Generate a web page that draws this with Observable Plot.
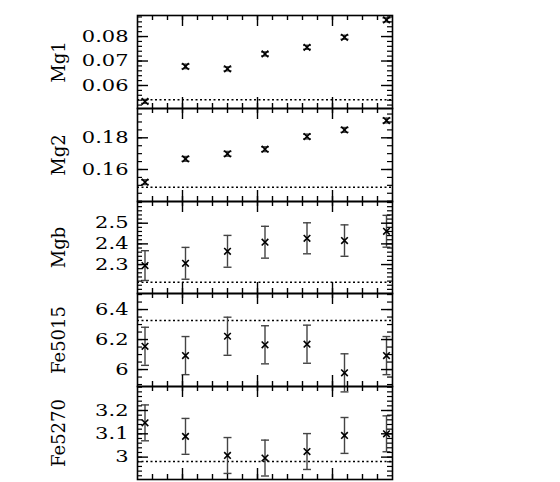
<!DOCTYPE html>
<html><head><meta charset="utf-8">
<script src="https://cdn.jsdelivr.net/npm/d3@7"></script>
<script src="https://cdn.jsdelivr.net/npm/@observablehq/plot@0.6"></script>
<style>
html,body{margin:0;padding:0;background:#fff;}
#chart{position:relative;width:560px;height:482px;overflow:hidden;background:#fff;}
#chart svg{position:absolute;left:0;overflow:visible;}
</style></head><body><div id="chart"></div>
<script>
// shared x positions (unlabelled axis)
const xPos = [-0.25, 0.02, 0.3, 0.55, 0.83, 1.08, 1.36];
const xDomain = [-0.3, 1.4];
const xMajorTicks = [0, 0.5, 1.0];
const xMinorStep = 0.1;

const mg1Values = [0.0535, 0.0678, 0.0668, 0.0729, 0.0756, 0.0797, 0.0868];
const mg1Errors = [0.0008, 0.0009, 0.0008, 0.0008, 0.0008, 0.0008, 0.0008];
const mg1Ref = 0.0542;
const mg1Ticks = [0.06, 0.07, 0.08];

const mg2Values = [0.152, 0.1667, 0.1699, 0.1728, 0.1808, 0.185, 0.1909];
const mg2Errors = [0.0015, 0.0015, 0.0015, 0.0015, 0.0015, 0.0015, 0.0015];
const mg2Ref = 0.1488;
const mg2Ticks = [0.16, 0.18];

const mgbValues = [2.295, 2.306, 2.364, 2.408, 2.427, 2.416, 2.461];
const mgbErrors = [0.072, 0.077, 0.077, 0.077, 0.075, 0.076, 0.077];
const mgbRef = 2.214;
const mgbTicks = [2.3, 2.4, 2.5];

const fe5015Values = [6.155, 6.093, 6.222, 6.165, 6.169, 5.978, 6.093];
const fe5015Errors = [0.127, 0.127, 0.127, 0.127, 0.127, 0.127, 0.127];
const fe5015Ref = 6.327;
const fe5015Ticks = [6, 6.2, 6.4];

const fe5270Values = [3.147, 3.089, 3.007, 2.996, 3.024, 3.093, 3.1];
const fe5270Errors = [0.077, 0.077, 0.077, 0.077, 0.077, 0.077, 0.077];
const fe5270Ref = 2.981;
const fe5270Ticks = [3, 3.1, 3.2];

const panels = [
  {label: "Mg1", values: mg1Values, errors: mg1Errors, ref: mg1Ref, ticks: mg1Ticks, minorStep: 0.002, domain: [0.0506, 0.0886], top: 15, bottom: 108},
  {label: "Mg2", values: mg2Values, errors: mg2Errors, ref: mg2Ref, ticks: mg2Ticks, minorStep: 0.005, domain: [0.1398, 0.1985], top: 108, bottom: 201},
  {label: "Mgb", values: mgbValues, errors: mgbErrors, ref: mgbRef, ticks: mgbTicks, minorStep: 0.02, domain: [2.16, 2.605], top: 201, bottom: 293},
  {label: "Fe5015", values: fe5015Values, errors: fe5015Errors, ref: fe5015Ref, ticks: fe5015Ticks, minorStep: 0.05, domain: [5.887, 6.507], top: 293, bottom: 386},
  {label: "Fe5270", values: fe5270Values, errors: fe5270Errors, ref: fe5270Ref, ticks: fe5270Ticks, minorStep: 0.02, domain: [2.904, 3.303], top: 386, bottom: 479}
];

const W = 560, ML = 137, MR = 168;
const innerW = W - ML - MR;

function stepTicks([lo, hi], step) {
  const k0 = Math.ceil(lo / step - 1e-9), k1 = Math.floor(hi / step + 1e-9);
  return d3.range(k0, k1 + 1).map(k => +(k * step).toFixed(6)).filter(v => v > lo && v < hi);
}
const xMinorTicks = stepTicks(xDomain, xMinorStep);

const cap = {draw(ctx, size) { const r = Math.sqrt(size / Math.PI); ctx.moveTo(-r, 0); ctx.lineTo(r, 0); }};
const serif = "DejaVu Serif";

const chart = document.getElementById("chart");
for (const p of panels) {
  const h = p.bottom - p.top;
  const rows = xPos.map((x, i) => ({x, v: p.values[i], e: p.errors[i]}));
  const minor = stepTicks(p.domain, p.minorStep);
  const svg = Plot.plot({
    width: W, height: h + 2, marginTop: 1, marginBottom: 1, marginLeft: ML, marginRight: MR,
    x: {domain: xDomain, axis: null},
    y: {domain: p.domain, axis: null},
    marks: [
      Plot.ruleY([p.ref], {stroke: "#000", strokeWidth: 1.5, strokeDasharray: "2,2.5"}),
      Plot.ruleX(rows, {x: "x", y1: d => d.v - d.e, y2: d => d.v + d.e, stroke: "#444", strokeWidth: 1.4}),
      Plot.dot(rows, {x: "x", y: d => d.v + d.e, symbol: cap, r: 4, stroke: "#444", strokeWidth: 1.4, fill: "none"}),
      Plot.dot(rows, {x: "x", y: d => d.v - d.e, symbol: cap, r: 4, stroke: "#444", strokeWidth: 1.4, fill: "none"}),
      Plot.dot(rows, {x: "x", y: "v", symbol: "times", r: 3.1, stroke: "#000", strokeWidth: 1.6}),
      Plot.tickX(xMajorTicks, {x: d => d, insetBottom: h - 11, strokeWidth: 1.4}),
      Plot.tickX(xMajorTicks, {x: d => d, insetTop: h - 11, strokeWidth: 1.4}),
      Plot.tickX(xMinorTicks, {x: d => d, insetBottom: h - 5, strokeWidth: 1.4}),
      Plot.tickX(xMinorTicks, {x: d => d, insetTop: h - 5, strokeWidth: 1.4}),
      Plot.tickY(p.ticks, {y: d => d, insetRight: innerW - 11, strokeWidth: 1.4}),
      Plot.tickY(p.ticks, {y: d => d, insetLeft: innerW - 11, strokeWidth: 1.4}),
      Plot.tickY(minor, {y: d => d, insetRight: innerW - 5, strokeWidth: 1.2}),
      Plot.tickY(minor, {y: d => d, insetLeft: innerW - 5, strokeWidth: 1.2}),
      Plot.frame({stroke: "#000", strokeWidth: 1.6}),
      Plot.axisY(p.ticks, {anchor: "left", tickSize: 0, tickPadding: 9, tickFormat: d => String(d), fontSize: 21, fontFamily: serif, label: null}),
      Plot.text([p.label], {frameAnchor: "left", dx: -78, rotate: -90, textAnchor: "middle", lineAnchor: "middle", text: d => d, fontSize: 18, fontFamily: serif, fill: "#000"})
    ]
  });
  svg.style.top = (p.top - 1) + "px";
  d3.select(svg).selectAll('g[aria-label="y-axis tick label"] text').each(function() {
    const t = this.getAttribute("transform") || "";
    const x = +this.getAttribute("x") || 0, y = +this.getAttribute("y") || 0;
    this.setAttribute("transform", `${t} translate(${x},${y}) scale(1,0.75) translate(${-x},${-y})`);
  });
  chart.appendChild(svg);
}
</script></body></html>
